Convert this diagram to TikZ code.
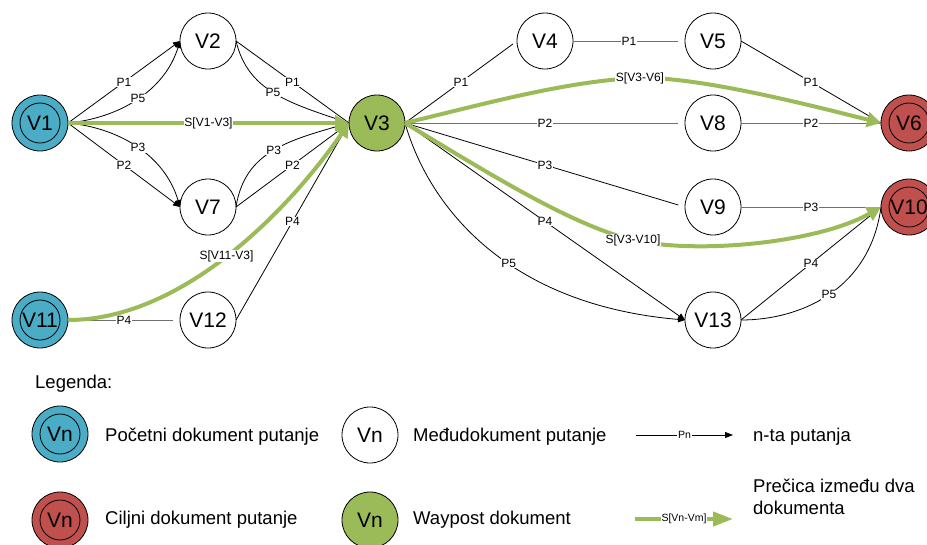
\documentclass[tikz,border=0pt]{standalone}
\usepackage{fontspec}
\setmainfont{Liberation Sans}
\usetikzlibrary{arrows.meta}
\definecolor{cblue}{HTML}{4BACC6}
\definecolor{cgreen}{HTML}{9BBB59}
\definecolor{cred}{HTML}{C0504D}
\definecolor{cgray}{HTML}{707070}
\begin{document}
\begin{tikzpicture}[x=1pt,y=-1pt,
  vnode/.style={circle, draw=black, line width=0.8pt, minimum size=56pt, inner sep=0pt, outer sep=0pt, font=\fontsize{21}{21}\selectfont},
  midnode/.style={vnode, fill=white},
  dblnode/.style={vnode, path picture={\draw[line width=0.8pt] (path picture bounding box.center) circle[radius=20pt];}},
  startnode/.style={dblnode, fill=cblue},
  goalnode/.style={dblnode, fill=cred},
  waynode/.style={vnode, fill=cgreen},
  pline/.style={line width=0.8pt, black},
  hzline/.style={line width=1pt, cgray},
  blackarr/.style={-{Triangle[length=7pt,width=6pt]}},
  gap/.style={shorten >=7pt},
  elabel/.style={fill=white, inner sep=0.8pt, font=\fontsize{12}{12}\selectfont, text=black},
  smalllabel/.style={fill=white, inner sep=0.8pt, font=\fontsize{10.5}{10.5}\selectfont, text=black},
  shortcut/.style={line width=4pt, cgreen, -{Triangle[length=14pt,width=15pt]}},
  legtext/.style={anchor=base west, inner sep=0pt, font=\fontsize{18.5}{22}\selectfont, align=left}
]
\useasboundingbox (0,0) rectangle (927,544);
\clip (0,0) rectangle (927,544);

% nodes
\node[startnode] (V1) at (40,123) {V1};
\node[midnode] (V2) at (208,41) {V2};
\node[midnode] (V7) at (208,207) {V7};
\node[waynode] (V3) at (377,123) {V3};
\node[startnode] (V11) at (40,320) {V11};
\node[midnode] (V12) at (208,320) {V12};
\node[midnode] (V4) at (545,41) {V4};
\node[midnode] (V5) at (713,41) {V5};
\node[midnode] (V8) at (713,123) {V8};
\node[midnode] (V9) at (713,207) {V9};
\node[midnode] (V13) at (713,320) {V13};
\node[goalnode] (V6) at (909,123) {V6};
\node[goalnode] (V10) at (909,207) {V10};

% left part paths
\draw[pline,blackarr] (V1.east) -- node[elabel]{P1} (V2.west);
\draw[pline,blackarr] (V1.east) .. controls (120,118) and (165,90) .. node[elabel]{P5} (V2.west);
\draw[pline,blackarr] (V1.east) -- node[elabel]{P2} (V7.west);
\draw[pline,blackarr] (V1.east) .. controls (120,128) and (165,156) .. node[elabel]{P3} (V7.west);
\draw[pline] (V2.east) -- node[elabel]{P1} (V3.west);
\draw[pline] (V2.east) .. controls (248,90) and (285,102) .. node[elabel]{P5} (V3.west);
\draw[pline] (V7.east) -- node[elabel]{P2} (V3.west);
\draw[pline] (V7.east) .. controls (245,150) and (290,140) .. node[elabel]{P3} (V3.west);
\draw[pline] (V12.east) -- node[elabel]{P4} (V3.west);
\draw[hzline,gap] (V11.east) -- node[elabel]{P4} (V12.west);

% right part paths
\draw[pline,shorten >=5pt] (V3.east) -- node[elabel]{P1} (V4.west);
\draw[hzline,gap] (V4.east) -- node[elabel]{P1} (V5.west);
\draw[hzline,gap] (V3.east) -- node[elabel]{P2} (V8.west);
\draw[pline,gap] (V3.east) -- node[elabel]{P3} (V9.west);
\draw[pline] (V5.east) -- node[elabel]{P1} (V6.west);
\draw[hzline] (V8.east) -- node[elabel]{P2} (V6.west);
\draw[hzline] (V9.east) -- node[elabel]{P3} (V10.west);
\draw[pline,blackarr] (V3.east) -- node[elabel]{P4} (V13.west);
\draw[pline,blackarr] (V3.east) .. controls (430,210) and (510,305) .. node[elabel,pos=0.57]{P5} (V13.west);
\draw[pline] (V13.east) -- node[elabel]{P4} (V10.west);
\draw[pline] (V13.east) .. controls (800,320) and (870,290) .. node[elabel]{P5} (V10.west);

% shortcuts
\draw[shortcut] (V1.east) -- node[elabel]{S[V1-V3]} (V3.west);
\draw[shortcut] (V11.east) .. controls (180,320) and (285,215) .. node[elabel]{S[V11-V3]} (V3.west);
\draw[shortcut] (V3.east) .. controls (480,105) and (570,80) .. (640,78) node[elabel]{S[V3-V6]}
  .. controls (695,77) and (790,100) .. (V6.west);
\draw[shortcut] (V3.east) .. controls (480,168) and (570,225) .. (633,240) node[elabel]{S[V3-V10]}
  .. controls (700,255) and (820,242) .. (V10.west);

% legend
\node[legtext] (leg) at (35,388) {Legenda:};
\node[startnode] (L1) at (60,434) {Vn};
\node[legtext] (L1t) at (105,441.5) {Početni dokument putanje};
\node[midnode] (L2) at (370,435) {Vn};
\node[legtext] (L2t) at (413,441.5) {Međudokument putanje};
\node[goalnode] (L3) at (60,520) {Vn};
\node[legtext] (L3t) at (105,524.5) {Ciljni dokument putanje};
\node[waynode] (L4) at (370,520) {Vn};
\node[legtext] (L4t) at (413,524.5) {Waypost dokument};
\coordinate (a1) at (636,435);
\coordinate (a2) at (733,435);
\draw[pline,-{Triangle[length=8pt,width=6pt]}] (a1) -- node[smalllabel]{Pn} (a2);
\node[legtext] (a3) at (753,441.5) {n-ta putanja};
\coordinate (b1) at (635,519);
\coordinate (b2) at (733,519);
\draw[line width=4pt, cgreen, -{Triangle[length=20pt,width=14pt]}] (b1) -- node[smalllabel]{S[Vn-Vm]} (b2);
\node[legtext] (b3) at (753,514) {Prečica između dva\\dokumenta};
\end{tikzpicture}
\end{document}
